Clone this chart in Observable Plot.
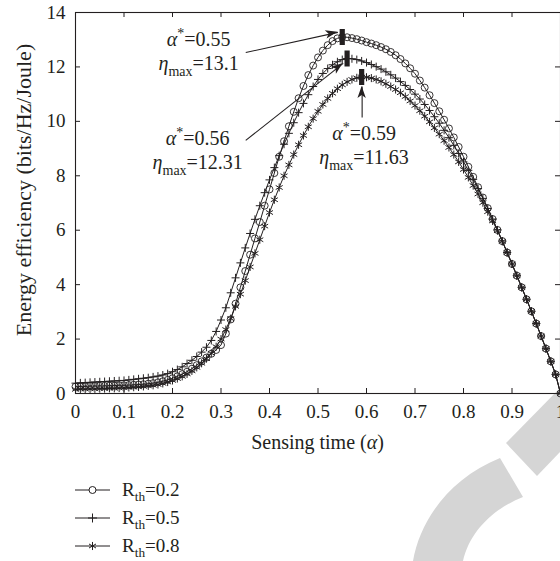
<!DOCTYPE html>
<html>
<head>
<meta charset="utf-8">
<script src="https://cdn.jsdelivr.net/npm/d3@7"></script>
<script src="https://cdn.jsdelivr.net/npm/@observablehq/plot@0.6"></script>
<style>
  html, body { margin: 0; padding: 0; background: #fff; }
  #wrap { position: relative; width: 560px; height: 561px; overflow: hidden; background: #fff; font-family: "Liberation Serif", "Times New Roman", "DejaVu Serif", serif; }
  #wrap text, #wrap tspan { font-family: "Liberation Serif", "Times New Roman", "DejaVu Serif", serif !important; }
  #wm { position: absolute; left: 0; top: 0; }
  #chart { position: absolute; left: 0; top: 0; }
  #legend { position: absolute; left: 75px; top: 476px; }
</style>
</head>
<body>
<div id="wrap">
  <svg id="wm" width="560" height="561"><g fill="#d5d5d5">
    <path d="M413,561 C420,520 450,478 500,458 L523,497 C495,508 470,530 463,561 Z"></path>
    <path d="M506,443 L537,476 L560,452 L560,388 Z"></path>
  </g></svg>
  <div id="chart"></div>
  <div id="legend"></div>
</div>
<script>
// ---------- data ----------
const alpha = d3.range(101).map(i => +(i / 100).toFixed(2)); // sensing time grid, step 0.01

const eeR02 = [
  0.25,0.26,0.26,0.27,0.27,0.28,0.28,0.29,0.29,0.30,0.30,
  0.31,0.32,0.33,0.34,0.36,0.38,0.41,0.45,0.50,0.56,
  0.63,0.71,0.80,0.91,1.04,1.18,1.32,1.46,1.60,1.78,
  2.20,2.72,3.30,3.90,4.50,5.10,5.70,6.30,6.90,7.50,
  8.10,8.70,9.27,9.82,10.35,10.85,11.30,11.70,12.05,12.35,
  12.60,12.80,12.95,13.05,13.10,13.09,13.06,13.02,12.97,12.91,
  12.86,12.80,12.73,12.65,12.55,12.43,12.29,12.13,11.95,11.75,
  11.50,11.24,10.96,10.67,10.37,10.06,9.74,9.41,9.06,8.70,
  8.33,7.96,7.58,7.20,6.81,6.41,6.01,5.60,5.18,4.76,
  4.33,3.90,3.46,3.02,2.57,2.11,1.65,1.18,0.70,0.00
];
const eeR05 = [
  0.38,0.39,0.40,0.41,0.42,0.43,0.44,0.45,0.46,0.47,0.48,
  0.50,0.52,0.54,0.56,0.58,0.61,0.64,0.68,0.73,0.80,
  0.88,0.98,1.10,1.22,1.36,1.52,1.70,1.95,2.28,2.70,
  3.15,3.70,4.25,4.80,5.35,5.88,6.40,6.90,7.38,7.85,
  8.30,8.74,9.16,9.56,9.95,10.32,10.66,10.98,11.28,11.54,
  11.76,11.94,12.08,12.19,12.27,12.31,12.30,12.27,12.22,12.16,
  12.09,12.01,11.92,11.82,11.71,11.59,11.46,11.32,11.17,11.00,
  10.82,10.62,10.40,10.17,9.93,9.67,9.40,9.12,8.82,8.51,
  8.20,7.87,7.53,7.17,6.80,6.41,6.01,5.60,5.18,4.76,
  4.33,3.90,3.46,3.02,2.57,2.11,1.65,1.18,0.70,0.00
];
const eeR08 = [
  0.15,0.16,0.16,0.17,0.17,0.18,0.18,0.19,0.19,0.20,0.21,
  0.22,0.23,0.24,0.26,0.28,0.30,0.33,0.37,0.42,0.48,
  0.55,0.63,0.72,0.83,0.96,1.11,1.28,1.48,1.72,2.00,
  2.35,2.75,3.20,3.65,4.15,4.65,5.15,5.65,6.15,6.65,
  7.12,7.57,8.00,8.40,8.78,9.14,9.48,9.80,10.10,10.37,
  10.62,10.84,11.03,11.20,11.34,11.45,11.54,11.60,11.63,11.62,
  11.59,11.54,11.47,11.38,11.28,11.17,11.05,10.91,10.75,10.58,
  10.39,10.19,9.98,9.76,9.53,9.29,9.04,8.78,8.51,8.23,
  7.94,7.64,7.33,7.01,6.68,6.34,5.98,5.59,5.18,4.76,
  4.33,3.90,3.46,3.02,2.57,2.11,1.65,1.18,0.70,0.00
];
const seriesNames = ["0.2", "0.5", "0.8"];        // R_th values
const seriesSymbols = ["circle", "plus", "asterisk"];

const xTicks = [0, 0.1, 0.2, 0.3, 0.4, 0.5, 0.6, 0.7, 0.8, 0.9, 1];
const xTickLabels = ["0", "0.1", "0.2", "0.3", "0.4", "0.5", "0.6", "0.7", "0.8", "0.9", "1"];
const yTicks = [0, 2, 4, 6, 8, 10, 12, 14];

// optimum points and annotations
const peakAlpha = [0.55, 0.56, 0.59];
const peakEta = [13.1, 12.31, 11.63];
const alphaStarLabels = ["0.55", "0.56", "0.59"];
const etaMaxLabels = ["13.1", "12.31", "11.63"];
const noteAlpha = [0.254, 0.252, 0.595];
const noteEta = [13.0, 9.37, 9.55];
const arrowFromAlpha = [0.351, 0.351, 0.591];
const arrowFromEta = [12.53, 9.30, 10.14];
const arrowToAlpha = [0.541, 0.552, 0.591];
const arrowToEta = [13.27, 12.13, 11.28];

// ---------- build ----------
const ink = "#231f20";
const serif = "'Liberation Serif', 'Times New Roman', 'DejaVu Serif', serif";
const W = 560, H = 460, mt = 12, mb = 67, ml = 75, mr = 0;
const fw = W - ml - mr, fh = H - mt - mb;
const symR = {circle: 3.5, plus: 2.7, asterisk: 3.8};

const rows = [];
[eeR02, eeR05, eeR08].forEach((vals, s) =>
  vals.forEach((v, i) => rows.push({alpha: alpha[i], ee: v, series: seriesNames[s], symbol: seriesSymbols[s]})));

const peaks = peakAlpha.map((a, i) => ({alpha: a, ee: peakEta[i]}));
const notes = noteAlpha.map((a, i) => ({alpha: a, ee: noteEta[i], l1: "α*=" + alphaStarLabels[i], l2: "ηmax=" + etaMaxLabels[i]}));
const arrows = arrowFromAlpha.map((a, i) => ({x1: a, y1: arrowFromEta[i], x2: arrowToAlpha[i], y2: arrowToEta[i]}));

const rectSymbol = { draw(context) { context.rect(-2.6, -8, 5.2, 16); } };

const plot = Plot.plot({
  width: W, height: H,
  marginTop: mt, marginBottom: mb, marginLeft: ml, marginRight: mr,
  style: {fontFamily: serif, fontSize: "19px", color: ink, background: "transparent", overflow: "visible"},
  x: {domain: [0, 1]},
  y: {domain: [0, 14]},
  marks: [
    Plot.axisX(xTicks, {tickSize: 0, tickPadding: 11, tickFormat: d => xTickLabels[xTicks.indexOf(d)], label: null, fontSize: 19}),
    Plot.axisY(yTicks, {tickSize: 0, tickPadding: 10, label: null, fontSize: 19}),
    Plot.tickX(xTicks, {stroke: ink, insetTop: fh - 5}),
    Plot.tickX(xTicks, {stroke: ink, insetBottom: fh - 5}),
    Plot.tickY(yTicks, {stroke: ink, insetRight: fw - 5}),
    Plot.tickY(yTicks, {stroke: ink, insetLeft: fw - 5}),
    Plot.line(rows, {x: "alpha", y: "ee", z: "series", stroke: ink, strokeWidth: 1}),
    Plot.dot(rows.filter(d => d.symbol === "circle"), {x: "alpha", y: "ee", symbol: "circle", r: symR.circle, stroke: ink, fill: "none", strokeWidth: 0.9}),
    Plot.dot(rows.filter(d => d.symbol === "plus"), {x: "alpha", y: "ee", symbol: "plus", r: symR.plus, stroke: ink, fill: "none", strokeWidth: 1}),
    Plot.dot(rows.filter(d => d.symbol === "asterisk"), {x: "alpha", y: "ee", symbol: "asterisk", r: symR.asterisk, stroke: ink, fill: "none", strokeWidth: 1}),
    Plot.link(arrows, {x1: "x1", y1: "y1", x2: "x2", y2: "y2", stroke: ink, strokeWidth: 1.1}),
    Plot.dot(peaks, {x: "alpha", y: "ee", symbol: rectSymbol, fill: ink, stroke: "none"}),
    Plot.text(notes, {x: "alpha", y: "ee", text: "l1", fontSize: 20, fill: ink}),
    Plot.text(notes, {x: "alpha", y: "ee", text: "l2", dy: 24, fontSize: 20, fill: ink}),
    Plot.frame({stroke: ink, strokeWidth: 1.1})
  ]
});
document.getElementById("chart").appendChild(plot);

// ---------- post-processing: rich text, arrow heads, axis titles ----------
const svg = d3.select(plot);
const xs = plot.scale("x"), ys = plot.scale("y");

svg.selectAll("text").each(function () {
  const t = this.textContent;
  const sel = d3.select(this);
  if (t.startsWith("α*=")) {
    sel.text(null);
    sel.append("tspan").attr("font-style", "italic").text("α");
    sel.append("tspan").attr("font-size", "70%").attr("dy", "-0.55em").text("*");
    sel.append("tspan").attr("dy", "0.385em").text(t.slice(2));
  } else if (t.startsWith("ηmax=")) {
    sel.text(null);
    sel.append("tspan").attr("font-style", "italic").text("η");
    sel.append("tspan").attr("font-size", "70%").attr("dy", "0.4em").text("max");
    sel.append("tspan").attr("dy", "-0.28em").text(t.slice(4));
  }
});

const heads = svg.append("g").attr("fill", ink);
arrows.forEach(a => {
  const x1 = xs.apply(a.x1), y1 = ys.apply(a.y1), x2 = xs.apply(a.x2), y2 = ys.apply(a.y2);
  const dx = x2 - x1, dy = y2 - y1, len = Math.hypot(dx, dy), ux = dx / len, uy = dy / len;
  const L = 12, Wd = 4.2;
  const bx = x2 - ux * L, by = y2 - uy * L;
  const nx = x2 - ux * (L - 3), ny = y2 - uy * (L - 3);
  heads.append("path").attr("d",
    `M${x2},${y2}L${bx - uy * Wd},${by + ux * Wd}L${nx},${ny}L${bx + uy * Wd},${by - ux * Wd}Z`);
});

const xl = svg.append("text").attr("x", ml + fw / 2).attr("y", 449).attr("text-anchor", "middle")
  .attr("font-size", 20).attr("fill", ink);
xl.append("tspan").text("Sensing time (");
xl.append("tspan").attr("font-style", "italic").text("α");
xl.append("tspan").text(")");

svg.append("text").attr("transform", "translate(31,190) rotate(-90)").attr("text-anchor", "middle")
  .attr("font-size", 22).attr("fill", ink).text("Energy efficiency (bits/Hz/Joule)");

svg.selectAll("text").attr("font-family", serif);

// ---------- legend ----------
const leg = d3.select("#legend").append("svg").attr("width", 200).attr("height", 84)
  .attr("font-family", serif);
const symMap = {circle: d3.symbolCircle, plus: d3.symbolPlus, asterisk: d3.symbolAsterisk};
const legR = {circle: 3.5, plus: 3, asterisk: 3.8};
seriesNames.forEach((name, i) => {
  const y = 14 + i * 28;
  const g = leg.append("g").attr("transform", `translate(0,${y})`);
  g.append("line").attr("x1", 0).attr("x2", 35).attr("stroke", ink).attr("stroke-width", 1);
  const s = seriesSymbols[i];
  g.append("path").attr("transform", "translate(17.5,0)")
    .attr("d", d3.symbol(symMap[s], Math.PI * legR[s] * legR[s])())
    .attr("fill", s === "circle" ? "#fff" : "none").attr("stroke", ink).attr("stroke-width", 1);
  const t = g.append("text").attr("x", 47).attr("y", 6).attr("font-size", 19).attr("fill", ink)
    .attr("font-family", serif);
  t.append("tspan").text("R");
  t.append("tspan").attr("font-size", "70%").attr("dy", "0.35em").text("th");
  t.append("tspan").attr("dy", "-0.245em").text("=" + name);
});
</script>
</body>
</html>
